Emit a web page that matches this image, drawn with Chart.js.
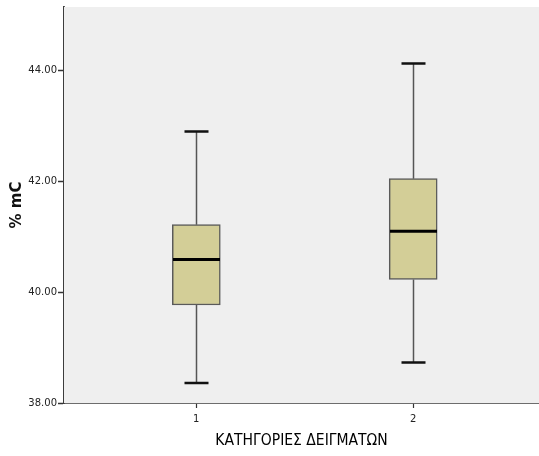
<!DOCTYPE html>
<html>
<head>
<meta charset="utf-8">
<script src="https://cdn.jsdelivr.net/npm/chart.js@4/dist/chart.umd.min.js"></script>
<style>
    html, body { margin: 0; padding: 0; background: #fff; }
    #wrap { width: 539px; height: 456px; }
</style>
</head>
<body>
<div id="wrap"><canvas id="chartBox"></canvas></div>
<script>
// Box plot: % mC by sample category
const categories = [1, 2];
const whiskerLow = [38.36, 38.73];
const q1 = [39.77, 40.23];
const median = [40.59, 41.10];
const q3 = [41.22, 42.05];
const whiskerHigh = [42.90, 44.13];
const yTicks = [38, 40, 42, 44];

const boxData = categories.map((c, i) => ({ x: c, y: [q1[i], q3[i]] }));

// plot background + whiskers, caps and medians drawn through the scales
const boxExtras = {
    id: 'boxExtras',
    beforeDatasetsDraw(chart) {
        const { ctx, chartArea: a } = chart;
        ctx.save();
        ctx.fillStyle = '#efefef';
        ctx.fillRect(a.left, a.top, a.right - a.left, a.bottom - a.top);
        ctx.restore();
    },
    afterDatasetsDraw(chart) {
        const { ctx, scales: { x, y } } = chart;
        ctx.save();
        categories.forEach((c, i) => {
            const px = Math.round(x.getPixelForValue(c)) + 0.5;
            ctx.strokeStyle = '#555';
            ctx.lineWidth = 1.5;
            ctx.beginPath();
            ctx.moveTo(px, y.getPixelForValue(whiskerHigh[i]));
            ctx.lineTo(px, y.getPixelForValue(q3[i]));
            ctx.moveTo(px, y.getPixelForValue(q1[i]));
            ctx.lineTo(px, y.getPixelForValue(whiskerLow[i]));
            ctx.stroke();

            ctx.strokeStyle = '#111';
            ctx.lineWidth = 2.5;
            ctx.beginPath();
            [whiskerHigh[i], whiskerLow[i]].forEach(v => {
                const py = y.getPixelForValue(v);
                ctx.moveTo(px - 12, py);
                ctx.lineTo(px + 12, py);
            });
            ctx.stroke();

            ctx.strokeStyle = '#000';
            ctx.lineWidth = 3;
            ctx.beginPath();
            const pm = y.getPixelForValue(median[i]);
            ctx.moveTo(px - 23.5, pm);
            ctx.lineTo(px + 23.5, pm);
            ctx.stroke();
        });
        ctx.restore();
    }
};

const tickFont = { family: 'DejaVu Sans', size: 10 };

new Chart(document.getElementById('chartBox'), {
    type: 'bar',
    data: {
        datasets: [{
            data: boxData,
            backgroundColor: '#d3ce97',
            borderColor: '#5a5a5a',
            borderWidth: 1.5,
            borderSkipped: false,
            barThickness: 48
        }]
    },
    options: {
        responsive: true,
        maintainAspectRatio: false,
        animation: false,
        layout: { padding: { top: 6, right: 0, left: 0, bottom: 0 } },
        plugins: {
            legend: { display: false },
            tooltip: { enabled: false }
        },
        scales: {
            x: {
                type: 'linear',
                offset: false,
                min: 0.39,
                max: 2.58,
                afterBuildTicks: s => { s.ticks = categories.map(v => ({ value: v })); },
                afterFit: s => { s.height = 53; },
                grid: { offset: false, drawOnChartArea: false, tickLength: 5, color: '#333', tickWidth: 1.2 },
                border: { color: '#3c3c3c', width: 1.8 },
                ticks: { font: tickFont, color: '#222', padding: 5, callback: v => String(v) },
                title: {
                    display: true,
                    text: 'ΚΑΤΗΓΟΡΙΕΣ ΔΕΙΓΜΑΤΩΝ',
                    font: { family: 'DejaVu Sans Condensed', size: 15.5 },
                    color: '#000',
                    padding: { top: 0, bottom: 6 }
                }
            },
            y: {
                min: 38,
                max: 45.15,
                afterBuildTicks: s => { s.ticks = yTicks.map(v => ({ value: v })); },
                afterFit: s => { s.width = 64; },
                grid: { drawOnChartArea: false, tickLength: 6, color: '#333', tickWidth: 1.5 },
                border: { color: '#3c3c3c', width: 1.8 },
                ticks: { font: tickFont, color: '#222', padding: 1, callback: v => v.toFixed(2) },
                title: {
                    display: true,
                    text: '% mC',
                    font: { family: 'DejaVu Sans', size: 15, weight: 'bold' },
                    color: '#111',
                    padding: { top: 8, bottom: 0 }
                }
            }
        }
    },
    plugins: [boxExtras]
});
</script>
</body>
</html>
